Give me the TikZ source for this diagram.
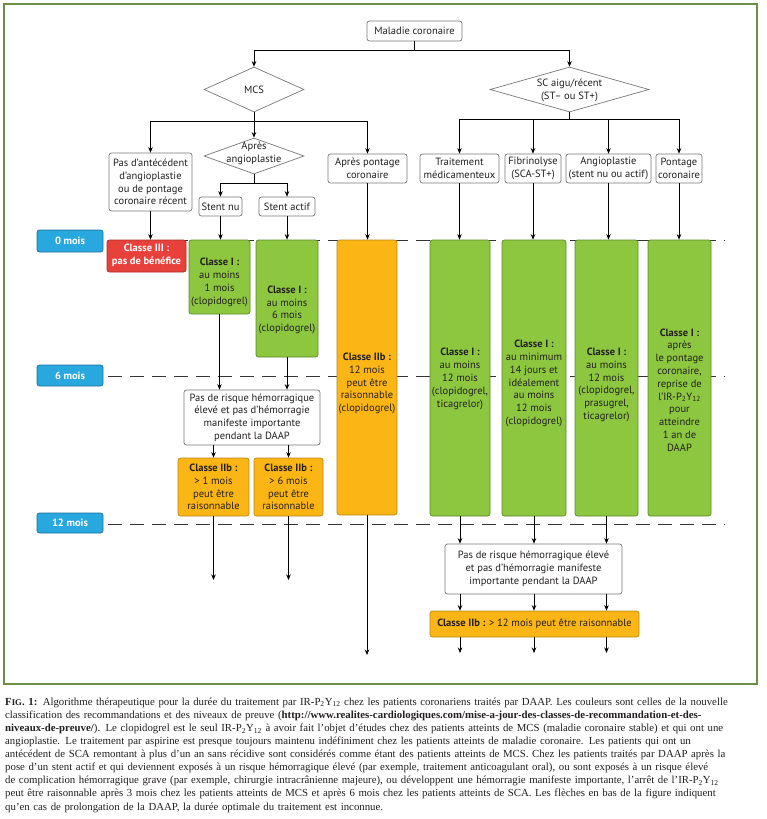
\documentclass[tikz,border=0pt]{standalone}
\usepackage{fontspec}
\setmainfont{Liberation Serif}
\setsansfont{PT Sans}
\usetikzlibrary{shapes.geometric,arrows.meta}
\definecolor{frameG}{RGB}{107,142,72}
\definecolor{boxgray}{RGB}{120,120,120}
\definecolor{txt}{RGB}{35,31,32}
\definecolor{greenF}{RGB}{141,198,63}
\definecolor{greenB}{RGB}{94,138,43}
\definecolor{orangeF}{RGB}{251,181,21}
\definecolor{orangeB}{RGB}{184,138,26}
\definecolor{redF}{RGB}{232,65,59}
\definecolor{redB}{RGB}{168,48,42}
\definecolor{blueF}{RGB}{41,168,224}
\definecolor{blueB}{RGB}{27,111,154}
\newcommand\diagfont{\sffamily\fontsize{10.5}{12.8}\selectfont}
\newcommand\capline[1]{\makebox[752pt][s]{#1}}
\tikzset{
 arr/.style={-{Stealth[length=5.5pt,width=4.5pt]}, line width=0.7pt, draw=black},
 ln/.style={line width=0.7pt, draw=black},
 wbox/.style={draw=boxgray, fill=white, rounded corners=2.5pt, inner sep=0pt, align=center, font=\diagfont, line width=0.7pt, text=txt},
 gbox/.style={wbox, draw=greenB, fill=greenF},
 obox/.style={wbox, draw=orangeB, fill=orangeF},
 rbox/.style={wbox, draw=redB, fill=redF, text=white},
 mbox/.style={wbox, draw=blueB, fill=blueF, text=white, font=\diagfont\bfseries},
 dia/.style={diamond, draw=boxgray, fill=white, inner sep=0pt, line width=0.7pt},
 tl/.style={align=center, font=\diagfont, inner sep=0pt, text=txt},
 dashln/.style={dash pattern=on 14pt off 8pt, line width=0.8pt, draw=black!80},
}
\begin{document}
\begin{tikzpicture}[x=1pt,y=-1pt]
\useasboundingbox (0,0) rectangle (766,819);
\fill[white] (0,0) rectangle (766,819);
\draw[frameG, line width=2.2pt] (4,4) rectangle (757,684);

% time labels and dashed lines
\node[mbox, minimum width=66pt, minimum height=22pt] (m0) at (70,241) {0 mois};
\node[mbox, minimum width=66pt, minimum height=21pt] (m6) at (70,375.5) {6 mois};
\node[mbox, minimum width=66pt, minimum height=20pt] (m12) at (70,523) {12 mois};
\coordinate (d0a) at (108,240); \coordinate (d0b) at (725,240);
\coordinate (d6a) at (108,376); \coordinate (d6b) at (725,376);
\coordinate (d12a) at (108,524); \coordinate (d12b) at (725,524);
\draw[dashln] (d0a) -- (d0b);
\draw[dashln] (d6a) -- (d6b);
\draw[dashln] (d12a) -- (d12b);

% top level
\node[wbox, minimum width=95pt, minimum height=20pt] (top) at (414.5,31) {Maladie coronaire};
\node[dia, minimum width=100pt, minimum height=45pt] (mcs) at (254,89.5) {};
\node[tl] (mcst) at (254,89.5) {MCS};
\node[dia, minimum width=159pt, minimum height=45pt] (sc) at (569.5,89.5) {};
\node[tl] (sct) at (569.5,90) {SC aigu/récent\\(ST– ou ST+)};

% MCS branch
\node[wbox, minimum width=83pt, minimum height=58pt] (pasant) at (150.5,182) {Pas d’antécédent\\d’angioplastie\\ou de pontage\\coronaire récent};
\node[dia, minimum width=100pt, minimum height=36pt] (apres) at (254,156) {};
\node[tl] (aprest) at (254,153.5) {Après\\angioplastie};
\node[wbox, minimum width=43pt, minimum height=19pt] (stentnu) at (220.5,206.5) {Stent nu};
\node[wbox, minimum width=56pt, minimum height=19pt] (stentactif) at (287,206.5) {Stent actif};
\node[wbox, minimum width=79pt, minimum height=29pt] (pontmcs) at (367.5,168.5) {Après pontage\\coronaire};

% SC branch
\node[wbox, minimum width=79pt, minimum height=29pt] (trait) at (459.5,168.5) {Traitement\\médicamenteux};
\node[wbox, minimum width=56pt, minimum height=29pt] (fibr) at (533,168.5) {Fibrinolyse\\(SCA-ST+)};
\node[wbox, minimum width=85pt, minimum height=29pt] (angio) at (608.5,168.5) {Angioplastie\\(stent nu ou actif)};
\node[wbox, minimum width=46pt, minimum height=29pt] (pontsc) at (679,168.5) {Pontage\\coronaire};

% coloured boxes
\node[rbox, minimum width=79pt, minimum height=32pt] (c3) at (146.5,256) {};
\node[tl, text=white] (c3t) at (146.5,255.5) {\textbf{Classe III :}\\\textbf{pas de bénéfice}};
\node[gbox, minimum width=61pt, minimum height=74pt] (c1nu) at (219.5,277) {};
\node[tl] (c1nut) at (219.5,282.5) {\textbf{Classe I :}\\au moins\\1 mois\\(clopidogrel)};
\node[gbox, minimum width=62pt, minimum height=117pt] (c1act) at (287,298.5) {};
\node[tl] (c1actt) at (287,310) {\textbf{Classe I :}\\au moins\\6 mois\\(clopidogrel)};
\node[obox, minimum width=60pt, minimum height=275pt] (c2bp) at (367,377.5) {};
\node[tl] (c2bpt) at (367,383.5) {\textbf{Classe IIb :}\\12 mois\\peut être\\raisonnable\\(clopidogrel)};

\node[gbox, minimum width=60pt, minimum height=276pt] (g1) at (460,378) {};
\node[tl] (g1t) at (460,379) {\textbf{Classe I :}\\au moins\\12 mois\\(clopidogrel,\\ticagrelor)};
\node[gbox, minimum width=64pt, minimum height=276pt] (g2) at (534,378) {};
\node[tl] (g2t) at (534,383.5) {\textbf{Classe I :}\\au minimum\\14 jours et\\idéalement\\au moins\\12 mois\\(clopidogrel)};
\node[gbox, minimum width=63pt, minimum height=276pt] (g3) at (606.5,378) {};
\node[tl] (g3t) at (606.5,385) {\textbf{Classe I :}\\au moins\\12 mois\\(clopidogrel,\\prasugrel,\\ticagrelor)};
\node[gbox, minimum width=63pt, minimum height=276pt] (g4) at (679.5,378) {};
\node[tl] (g4t) at (679.5,390) {\textbf{Classe I :}\\après\\le pontage\\coronaire,\\reprise de\\l’IR-P\textsubscript{2}Y\textsubscript{12}\\pour\\atteindre\\1 an de\\DAAP};

\node[wbox, minimum width=136pt, minimum height=55pt] (risk1) at (252,417.5) {Pas de risque hémorragique\\élevé et pas d’hémorragie\\manifeste importante\\pendant la DAAP};
\node[obox, minimum width=71pt, minimum height=58pt] (c2b1) at (213.5,487) {\textbf{Classe IIb :}\\> 1 mois\\peut être\\raisonnable};
\node[obox, minimum width=69pt, minimum height=58pt] (c2b6) at (288.5,487) {\textbf{Classe IIb :}\\> 6 mois\\peut être\\raisonnable};

\node[wbox, minimum width=177pt, minimum height=50pt] (risk2) at (533.5,569) {Pas de risque hémorragique élevé\\et pas d’hémorragie manifeste\\importante pendant la DAAP};
\node[obox, minimum width=209pt, minimum height=26pt] (c2b12) at (534.5,624) {\textbf{Classe IIb :} > 12 mois peut être raisonnable};

% connectors
\coordinate (j1) at (414.5,50);
\draw[ln] (top.south) -- (j1);
\draw[arr] (j1) -| (mcs.north);
\draw[arr] (j1) -| (sc.north);

\coordinate (j2) at (254,121);
\draw[ln] (mcs.south) -- (j2);
\draw[arr] (j2) -| (pasant.north);
\draw[arr] (j2) -- (apres.north);
\draw[arr] (j2) -| (pontmcs.north);

\coordinate (j3) at (254,183);
\draw[ln] (apres.south) -- (j3);
\draw[arr] (j3) -| (stentnu.north);
\draw[arr] (j3) -| (stentactif.north);

\coordinate (j4) at (569.5,119);
\draw[ln] (sc.south) -- (j4);
\draw[arr] (j4) -| (trait.north);
\draw[arr] (j4) -| (fibr.north);
\draw[arr] (j4) -| (angio.north);
\draw[arr] (j4) -| (pontsc.north);

\draw[arr] (pasant.south) -- (pasant.south |- c3.north);
\draw[arr] (stentnu.south) -- (stentnu.south |- c1nu.north);
\draw[arr] (stentactif.south) -- (stentactif.south |- c1act.north);
\draw[arr] (pontmcs.south) -- (pontmcs.south |- c2bp.north);
\draw[arr] (trait.south) -- (trait.south |- g1.north);
\draw[arr] (fibr.south) -- (fibr.south |- g2.north);
\draw[arr] (angio.south) -- (angio.south |- g3.north);
\draw[arr] (pontsc.south) -- (pontsc.south |- g4.north);

\draw[arr] (c1nu.south) -- (c1nu.south |- risk1.north);
\draw[arr] (c1act.south) -- (c1act.south |- risk1.north);
\draw[arr] (c2b1.north |- risk1.south) -- (c2b1.north);
\draw[arr] (c2b6.north |- risk1.south) -- (c2b6.north);

\coordinate (e1) at (213.5,580);
\coordinate (e2) at (288.5,580);
\coordinate (e3) at (367,655);
\draw[arr] (c2b1.south) -- (e1);
\draw[arr] (c2b6.south) -- (e2);
\draw[arr] (c2bp.south) -- (e3);

\draw[arr] (g1.south) -- (g1.south |- risk2.north);
\draw[arr] (g2.south) -- (g2.south |- risk2.north);
\draw[arr] (g3.south) -- (g3.south |- risk2.north);
\draw[arr] (g1.south |- risk2.south) -- (g1.south |- c2b12.north);
\draw[arr] (g2.south |- risk2.south) -- (g2.south |- c2b12.north);
\draw[arr] (g3.south |- risk2.south) -- (g3.south |- c2b12.north);
\coordinate (e4) at (460,653);
\coordinate (e5) at (534,653);
\coordinate (e6) at (606.5,653);
\draw[arr] (e4 |- c2b12.south) -- (e4);
\draw[arr] (e5 |- c2b12.south) -- (e5);
\draw[arr] (e6 |- c2b12.south) -- (e6);

% caption
\node[anchor=north west, inner sep=0pt, text width=752pt, align=left, font=\rmfamily\fontsize{10.8}{13.1}\selectfont, text=txt] (cap) at (5,697.5) {%
\capline{\textbf{F{\fontsize{8.8}{10}\selectfont IG}. 1:} Algorithme thérapeutique pour la durée du traitement par IR-P\textsubscript{2}Y\textsubscript{12} chez les patients coronariens traités par DAAP. Les couleurs sont celles de la nouvelle}\\
\capline{classification des recommandations et des niveaux de preuve (\textbf{http://www.realites-cardiologiques.com/mise-a-jour-des-classes-de-recommandation-et-des-}}\\
\capline{\textbf{niveaux-de-preuve/}). Le clopidogrel est le seul IR-P\textsubscript{2}Y\textsubscript{12} à avoir fait l’objet d’études chez des patients atteints de MCS (maladie coronaire stable) et qui ont une}\\
\capline{angioplastie. Le traitement par aspirine est presque toujours maintenu indéfiniment chez les patients atteints de maladie coronaire. Les patients qui ont un}\\
\capline{antécédent de SCA remontant à plus d’un an sans récidive sont considérés comme étant des patients atteints de MCS. Chez les patients traités par DAAP après la}\\
\capline{pose d’un stent actif et qui deviennent exposés à un risque hémorragique élevé (par exemple, traitement anticoagulant oral), ou sont exposés à un risque élevé}\\
\capline{de complication hémorragique grave (par exemple, chirurgie intracrânienne majeure), ou développent une hémorragie manifeste importante, l’arrêt de l’IR-P\textsubscript{2}Y\textsubscript{12}}\\
\capline{peut être raisonnable après 3 mois chez les patients atteints de MCS et après 6 mois chez les patients atteints de SCA. Les flèches en bas de la figure indiquent}\\
qu’en cas de prolongation de la DAAP, la durée optimale du traitement est inconnue.};
\end{tikzpicture}
\end{document}
